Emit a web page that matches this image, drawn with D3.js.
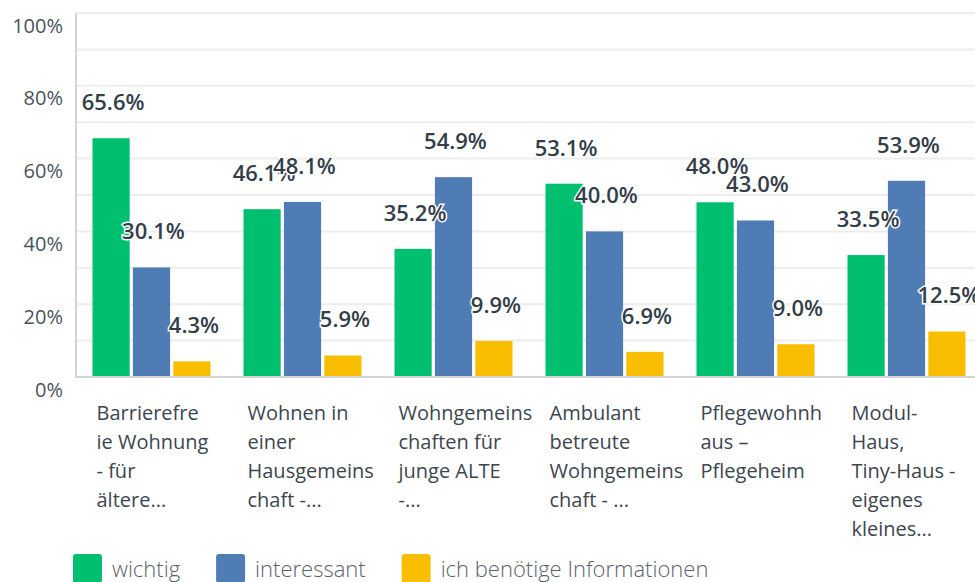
<!DOCTYPE html>
<html>
<head>
<meta charset="utf-8">
<script src="https://cdn.jsdelivr.net/npm/d3@7/dist/d3.min.js"></script>
<style>
  html, body { margin: 0; padding: 0; background: #fff; }
  svg { display: block; font-family: "Open Sans", sans-serif; }
</style>
</head>
<body>
<svg id="chart" width="975" height="582"></svg>
<script>
// categories, wrapped the way the survey tool cuts them
const categories = ["barrierefrei", "hausgemeinschaft", "wg_junge_alte", "ambulant", "pflegeheim", "modulhaus"];
const categoryLines = [
  ["Barrierefre", "ie Wohnung", "- für", "ältere..."],
  ["Wohnen in", "einer", "Hausgemeins", "chaft -..."],
  ["Wohngemeins", "chaften für", "junge ALTE", "-..."],
  ["Ambulant", "betreute", "Wohngemeins", "chaft - ..."],
  ["Pflegewohnh", "aus –", "Pflegeheim"],
  ["Modul-", "Haus,", "Tiny-Haus -", "eigenes", "kleines..."]
];

const seriesNames = ["wichtig", "interessant", "ich benötige Informationen"];
const wichtig     = [65.6, 46.1, 35.2, 53.1, 48.0, 33.5];
const interessant = [30.1, 48.1, 54.9, 40.0, 43.0, 53.9];
const infos       = [4.3, 5.9, 9.9, 6.9, 9.0, 12.5];
const seriesValues = [wichtig, interessant, infos];
const colors = ["#00bf6f", "#507cb6", "#f9be00"];

const yTicks = [0, 20, 40, 60, 80, 100];
const yGrid = d3.range(0, 101, 10);

const svg = d3.select("#chart");
const plotLeft = 76, plotRight = 982, plotTop = 13, plotBottom = 377;

const x = d3.scaleBand()
  .domain(categories)
  .range([plotLeft, plotRight])
  .paddingInner(0.2185)
  .paddingOuter(0.1093);

const xs = d3.scaleBand()
  .domain(seriesNames)
  .range([0, x.bandwidth()])
  .paddingInner(0.08);

const y = d3.scaleLinear().domain([0, 100]).range([plotBottom, plotTop]);

// grid lines
svg.append("g")
  .selectAll("line")
  .data(yGrid)
  .join("line")
    .attr("x1", plotLeft)
    .attr("x2", 975)
    .attr("y1", d => y(d))
    .attr("y2", d => y(d))
    .attr("stroke", "#ededed")
    .attr("stroke-width", 2);

// y tick labels (sit a bit under their line, as in the original)
const yAxis = svg.append("g")
  .attr("transform", `translate(${plotLeft},0)`)
  .call(d3.axisLeft(y).tickValues(yTicks).tickFormat(d => d + "%").tickSize(0).tickPadding(13));
yAxis.select(".domain").remove();
yAxis.selectAll("text")
  .attr("dy", "0.95em")
  .attr("fill", "#4a535a")
  .style("font-size", "20px")
  .style("font-family", "'Open Sans', sans-serif");

// axis lines
svg.append("line")
  .attr("x1", plotLeft).attr("x2", plotLeft)
  .attr("y1", plotTop).attr("y2", plotBottom + 1)
  .attr("stroke", "#d3d3d3").attr("stroke-width", 2);
svg.append("line")
  .attr("x1", plotLeft).attr("x2", 975)
  .attr("y1", plotBottom).attr("y2", plotBottom)
  .attr("stroke", "#d3d3d3").attr("stroke-width", 2);

const rows = categories.map((c, i) => ({
  cat: c,
  bars: seriesNames.map((s, j) => ({ s: s, j: j, v: seriesValues[j][i] }))
}));

const groups = svg.append("g")
  .selectAll("g")
  .data(rows)
  .join("g")
    .attr("transform", d => `translate(${x(d.cat)},0)`);

groups.selectAll("rect")
  .data(d => d.bars)
  .join("rect")
    .attr("x", d => xs(d.s))
    .attr("y", d => y(d.v))
    .attr("width", xs.bandwidth())
    .attr("height", d => y(0) - y(d.v) - 1)
    .attr("fill", d => colors[d.j]);

// value labels, drawn last so they overlap bars with a white halo
const labels = svg.append("g");
rows.forEach(r => {
  labels.selectAll(null)
    .data(r.bars)
    .join("text")
      .attr("x", d => x(r.cat) + xs(d.s) + xs.bandwidth() / 2 + 2)
      .attr("y", d => y(d.v) - 36)
      .attr("dy", "0.36em")
      .attr("text-anchor", "middle")
      .attr("fill", "#333e48")
      .attr("stroke", "#fff")
      .attr("stroke-width", 3)
      .attr("paint-order", "stroke")
      .style("font-size", "22px")
      .style("font-weight", 600)
      .text(d => d.v.toFixed(1) + "%");
});

// category labels
const catLabels = svg.append("g")
  .selectAll("text")
  .data(categories)
  .join("text")
    .attr("x", d => x(d) + 4)
    .attr("y", 420)
    .attr("fill", "#3d464e")
    .style("font-size", "20px");
catLabels.selectAll("tspan")
  .data((d, i) => categoryLines[i])
  .join("tspan")
    .attr("x", function() { return this.parentNode.getAttribute("x"); })
    .attr("dy", (d, i) => i === 0 ? 0 : 29)
    .text(d => d);

// legend
const legend = svg.append("g").attr("transform", "translate(73,554)");
let lx = 0;
seriesNames.forEach((s, i) => {
  const item = legend.append("g").attr("transform", `translate(${lx},0)`);
  item.append("rect")
    .attr("width", 29).attr("height", 29).attr("rx", 3)
    .attr("fill", colors[i]);
  const t = item.append("text")
    .attr("x", 39).attr("y", 23)
    .attr("fill", "#59636b")
    .style("font-size", "22px")
    .style("font-weight", 300)
    .text(s);
  lx += 39 + t.node().getComputedTextLength() + 36;
});
</script>
</body>
</html>
